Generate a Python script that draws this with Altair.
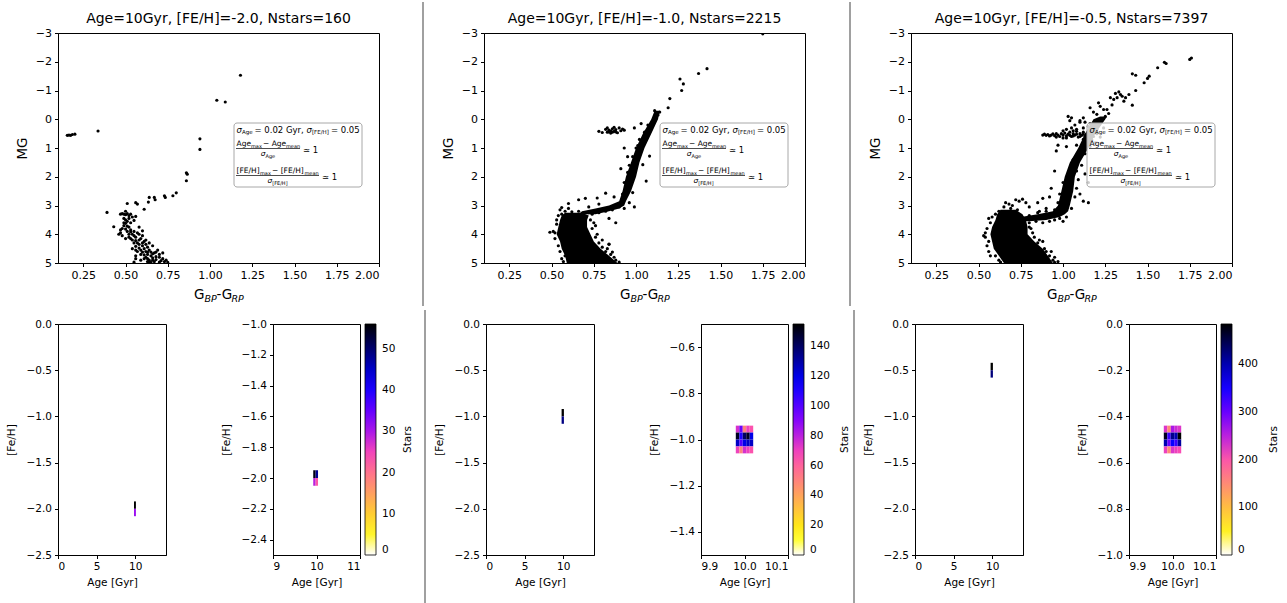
import altair as alt
import pandas as pd

FONT = "DejaVu Sans"

TITLES = [
    "Age=10Gyr, [FE/H]=-2.0, Nstars=160",
    "Age=10Gyr, [FE/H]=-1.0, Nstars=2215",
    "Age=10Gyr, [FE/H]=-0.5, Nstars=7397",
]

# ---------------- CMD stars (BP-RP, MG) ----------------
P1_STARS = [
    (0.155, 0.56), (0.165, 0.55), (0.175, 0.56), (0.185, 0.53), (0.20, 0.52), (0.337, 0.41),
    (1.18, -1.53), (1.04, -0.66), (1.09, -0.6), (0.94, 0.68), (0.94, 1.05), (0.86, 1.86),
    (0.865, 1.91), (0.86, 2.14), (0.80, 2.56), (0.78, 2.66), (0.73, 2.66), (0.735, 2.72),
    (0.67, 2.72), (0.675, 2.8), (0.64, 2.72), (0.635, 2.88), (0.61, 3.13), (0.56, 2.9),
    (0.57, 2.95), (0.51, 2.93), (0.39, 3.24), (0.43, 3.74),
    (0.47, 3.3), (0.48, 3.28), (0.49, 3.3), (0.50, 3.32), (0.50, 3.2), (0.51, 3.28), (0.52, 3.35),
    (0.53, 3.3), (0.49, 3.45), (0.50, 3.5), (0.51, 3.55), (0.52, 3.45), (0.53, 3.6), (0.50, 3.62),
    (0.49, 3.7), (0.51, 3.72), (0.52, 3.75), (0.48, 3.8), (0.47, 3.85), (0.47, 3.95), (0.50, 3.82),
    (0.53, 3.85), (0.55, 3.52), (0.56, 3.38), (0.54, 3.4), (0.49, 3.6), (0.53, 3.92), (0.55, 3.9),
    (0.51, 3.9), (0.52, 4.0), (0.54, 4.0), (0.55, 4.05), (0.56, 4.1), (0.57, 3.95), (0.58, 4.0),
    (0.52, 4.1), (0.53, 4.15), (0.54, 4.2), (0.56, 4.22), (0.58, 4.2), (0.59, 4.15), (0.60, 4.05),
    (0.61, 4.25), (0.55, 4.3), (0.57, 4.3), (0.58, 4.35), (0.60, 4.4), (0.62, 4.35), (0.56, 4.42),
    (0.58, 4.48), (0.59, 4.55), (0.61, 4.5), (0.63, 4.45), (0.60, 4.62), (0.62, 4.6), (0.64, 4.55),
    (0.65, 4.62), (0.59, 4.7), (0.61, 4.72), (0.63, 4.7), (0.65, 4.75), (0.67, 4.65), (0.68, 4.62),
    (0.70, 4.7), (0.72, 4.65), (0.62, 4.8), (0.63, 4.85), (0.64, 4.9), (0.66, 4.82), (0.68, 4.88),
    (0.70, 4.8), (0.72, 4.85), (0.74, 4.9), (0.63, 4.95), (0.65, 4.98), (0.67, 4.95), (0.70, 4.97),
    (0.73, 4.95), (0.55, 4.97), (0.56, 4.55), (0.56, 4.75), (0.57, 4.6), (0.54, 4.5), (0.58, 3.75),
    (0.60, 3.88), (0.46, 4.0), (0.48, 4.05), (0.50, 4.15), (0.62, 4.2), (0.64, 4.3), (0.66, 4.4),
    (0.60, 4.3), (0.63, 4.62), (0.68, 4.78), (0.61, 4.85), (0.66, 4.68), (0.69, 4.55), (0.59, 4.9),
    (0.71, 4.92), (0.75, 4.98), (0.64, 4.98), (0.56, 4.85), (0.66, 4.9),
]

P2_STARS = [
    (1.75, -2.97), (1.42, -1.76), (1.37, -1.59), (1.26, -1.4), (1.28, -1.23), (1.27, -1.0),
    (1.20, -0.72), (1.19, -0.4),
    (0.78, 0.42), (0.82, 0.35), (0.83, 0.45), (0.84, 0.38), (0.85, 0.48), (0.86, 0.33),
    (0.87, 0.42), (0.88, 0.36), (0.89, 0.47), (0.90, 0.30), (0.91, 0.40), (0.92, 0.34),
    (0.85, 0.41), (0.88, 0.44), (0.80, 0.46), (0.83, 0.30), (0.86, 0.45), (0.93, 0.38),
    (0.87, 0.28), (0.84, 0.44),
    (0.53, 3.5), (0.52, 3.95), (0.49, 3.93), (0.54, 3.35), (0.56, 3.3), (0.53, 3.65),
    (0.52, 4.15), (0.54, 4.4), (0.55, 4.6), (0.56, 4.85), (0.57, 4.95), (0.58, 4.75),
    (0.73, 3.5), (0.74, 3.8), (0.76, 4.1), (0.78, 4.3), (0.80, 4.45), (0.82, 4.6), (0.85, 4.7),
    (0.87, 4.8), (0.88, 4.9), (0.90, 4.97), (0.75, 3.6), (0.77, 4.0), (0.84, 4.35), (0.83, 4.5),
    (0.86, 4.62), (0.58, 3.2), (0.62, 3.22), (0.66, 3.2), (0.55, 3.15), (0.60, 3.1),
    (0.72, 3.25), (0.76, 3.2), (0.80, 3.15), (0.84, 3.1), (0.86, 3.05), (0.88, 3.0), (0.90, 2.95),
    (0.82, 3.2), (0.78, 3.25), (0.74, 3.3), (0.86, 3.15), (0.90, 3.05),
    (0.92, 2.6), (0.95, 2.4), (0.93, 2.2), (0.97, 2.0), (0.95, 1.85), (0.99, 1.75), (0.96, 1.6),
    (1.00, 1.45), (0.98, 1.3), (1.02, 1.2), (1.00, 1.0), (1.04, 0.85), (1.02, 0.7), (1.06, 0.6),
    (1.05, 0.45), (1.08, 0.35), (1.07, 0.2), (1.10, 0.1), (1.12, -0.05), (1.13, -0.15),
    (1.14, -0.25), (1.11, -0.3),
    (0.93, 1.0), (0.95, 1.3), (0.91, 1.72), (1.04, 1.58), (1.06, 2.15), (0.98, 2.55), (0.82, 2.57),
    (0.77, 2.74), (0.70, 2.75), (0.66, 2.8), (0.60, 2.93), (0.56, 3.07), (0.87, 2.7), (0.84, 3.45),
    (0.88, 3.6), (0.72, 3.05), (0.78, 2.95), (0.51, 3.9), (0.80, 4.2), (0.84, 4.34), (0.76, 3.7),
    (1.03, 0.15), (0.99, 0.3), (1.01, 0.92), (1.08, 1.28), (0.96, 2.9), (0.93, 3.1), (0.99, 3.05),
]

P3_STARS = [
    (1.75, -2.08), (1.76, -2.13), (1.60, -1.98), (1.61, -1.94), (1.56, -1.79), (1.51, -1.5),
    (1.50, -1.42), (1.48, -1.27), (1.41, -1.58), (1.43, -1.53), (1.43, -1.0), (1.41, -0.49),
    (1.39, -0.86), (1.37, -0.75), (1.35, -0.8), (1.34, -0.86), (1.32, -0.75), (1.30, -0.69),
    (1.28, -0.75), (1.36, -0.63), (1.21, -0.57), (1.16, -0.4), (1.24, -0.34), (1.26, -0.34),
    (1.20, -0.17), (1.33, -0.95), (1.31, -0.9), (1.29, -0.5), (1.22, -0.45), (1.27, -0.2),
    (1.25, -0.1), (1.18, -0.25), (1.12, -0.05), (1.10, 0.05),
    (0.88, 0.55), (0.89, 0.52), (0.90, 0.56), (0.91, 0.53), (0.93, 0.55), (0.94, 0.51),
    (0.95, 0.57), (0.96, 0.5), (0.97, 0.55), (0.98, 0.6), (0.99, 0.5), (1.00, 0.55), (1.01, 0.48),
    (1.02, 0.58), (1.03, 0.52), (1.04, 0.45), (1.05, 0.6), (1.06, 0.5), (1.07, 0.55), (1.08, 0.42),
    (1.09, 0.62), (1.10, 0.5), (1.11, 0.56), (1.12, 0.45), (1.13, 0.6), (1.14, 0.52), (1.15, 0.55),
    (1.00, 0.4), (1.02, 0.35), (1.05, 0.3), (1.07, 0.2), (1.10, 0.1), (1.04, 0.05), (1.08, 0.35),
    (1.06, 0.4), (1.12, 0.3), (0.96, 0.62), (1.00, 0.65), (1.02, 0.65), (1.03, -0.1), (1.05, -0.05),
    (1.06, 0.58), (1.08, 0.52), (1.10, 0.6), (1.12, 0.52), (1.14, 0.6), (1.04, 0.56), (0.92, 0.58),
    (1.17, 0.45), (1.18, 0.6), (1.17, 0.72), (1.19, 0.82), (1.16, 0.95), (1.20, 0.5), (1.22, 0.62),
    (1.24, 0.3), (1.20, 0.35), (1.18, 0.3),
    (1.10, 1.3), (1.13, 1.2), (1.06, 1.4), (1.11, 1.6), (1.08, 1.8), (1.04, 1.9), (1.09, 2.1),
    (1.00, 2.2), (1.08, 2.4), (0.98, 2.6), (1.07, 2.7), (0.97, 2.9), (1.05, 3.1), (1.14, 0.8),
    (1.08, 0.9), (1.12, 0.7), (1.15, 0.25), (1.13, 0.1), (1.16, 0.15),
    (0.95, 1.8), (0.96, 1.1), (0.97, 0.9), (1.13, 1.9), (1.15, 2.2), (1.15, 2.9), (1.12, 2.85),
    (1.10, 2.6), (0.93, 2.4), (0.92, 2.7), (0.88, 2.75), (0.85, 2.9), (0.90, 3.1), (0.86, 3.2),
    (0.95, 3.5), (1.00, 3.55), (0.82, 3.95), (0.80, 3.75), (0.88, 4.25), (0.93, 4.6), (0.95, 4.8),
    (0.97, 4.95), (1.02, 0.95),
    (0.66, 2.9), (0.68, 2.95), (0.70, 3.0), (0.72, 2.8), (0.74, 2.85), (0.76, 2.78), (0.78, 2.9),
    (0.80, 3.05), (0.69, 3.1), (0.73, 3.15), (0.65, 3.05), (0.62, 3.2), (0.60, 3.3), (0.58, 3.4),
    (0.56, 3.45), (0.57, 3.6), (0.55, 3.8), (0.53, 4.05), (0.54, 4.1), (0.55, 4.4), (0.56, 4.25),
    (0.54, 3.95), (0.56, 4.6), (0.57, 4.75), (0.60, 4.75), (0.62, 4.9), (0.63, 4.97),
    (0.80, 3.6), (0.81, 3.8), (0.83, 4.1), (0.85, 4.3), (0.89, 4.5), (0.90, 4.6), (0.92, 4.75),
    (0.94, 4.9), (0.95, 4.98), (0.86, 4.2),
    (0.80, 3.35), (0.85, 3.25), (0.90, 3.2), (0.95, 3.15), (1.00, 3.1), (0.92, 3.55), (0.88, 3.6),
    (0.84, 3.55), (1.02, 3.4), (0.98, 3.45),
]

# dense regions: MG level, left and right colour edge of the solid black band
P2_RGB_MG = [-0.3, 0.0, 0.5, 1.0, 1.5, 2.0, 2.5, 2.85, 3.0, 3.1, 3.2, 3.3]
P2_RGB_LO = [1.11, 1.09, 1.04, 1.00, 0.97, 0.94, 0.92, 0.90, 0.84, 0.76, 0.68, 0.66]
P2_RGB_HI = [1.14, 1.13, 1.09, 1.05, 1.02, 1.00, 0.97, 0.94, 0.93, 0.90, 0.84, 0.76]
P2_MS_MG = [3.25, 3.35, 3.5, 3.75, 4.0, 4.25, 4.5, 4.75, 5.0]
P2_MS_LO = [0.58, 0.56, 0.55, 0.54, 0.53, 0.55, 0.56, 0.58, 0.59]
P2_MS_HI = [0.68, 0.72, 0.71, 0.71, 0.73, 0.75, 0.79, 0.84, 0.89]

P3_RGB_MG = [-0.1, 0.0, 0.5, 1.0, 1.5, 2.0, 2.5, 3.0, 3.2, 3.3, 3.4, 3.5, 3.55]
P3_RGB_LO = [1.22, 1.18, 1.13, 1.09, 1.04, 1.01, 0.99, 0.97, 0.94, 0.85, 0.75, 0.72, 0.72]
P3_RGB_HI = [1.26, 1.25, 1.19, 1.15, 1.10, 1.07, 1.06, 1.04, 1.03, 1.01, 0.98, 0.90, 0.80]
P3_MS_MG = [3.15, 3.3, 3.5, 3.75, 4.0, 4.25, 4.5, 4.75, 5.0]
P3_MS_LO = [0.63, 0.61, 0.60, 0.58, 0.57, 0.58, 0.59, 0.62, 0.65]
P3_MS_HI = [0.72, 0.76, 0.78, 0.79, 0.79, 0.83, 0.88, 0.91, 0.94]

# ---------------- Age / [Fe/H] histograms ----------------
OV1_AGE = [9.85, 10.1]
OV1_FEH = [-1.92, -2.0, -2.08]
OV1_N = [103, 57]
OV2_AGE = [9.8, 10.1]
OV2_FEH = [-0.92, -1.0, -1.08]
OV2_N = [1100, 960]
OV3_AGE = [9.8, 10.1]
OV3_FEH = [-0.42, -0.5, -0.58]
OV3_N = [3500, 3080]

H1_AGE = [9.925, 9.98, 10.035]
H1_FEH = [-1.95, -2.0, -2.05]
H1_N = [[55, 48], [29, 23]]
H1_MAX = 56

H2_AGE = [9.98, 9.988, 9.996, 10.004, 10.012, 10.02]
H2_FEH = [-0.94, -0.97, -1.0, -1.03, -1.06]
H2_N = [[75, 95, 50, 70, 65], [150, 110, 140, 150, 120], [125, 100, 120, 125, 125], [70, 50, 75, 70, 65]]
H2_MAX = 155

H3_AGE = [9.98, 9.988, 9.996, 10.004, 10.012, 10.02]
H3_FEH = [-0.44, -0.47, -0.5, -0.53, -0.56]
H3_N = [[230, 150, 260, 240, 230], [470, 330, 420, 400, 485], [400, 300, 360, 330, 410], [220, 150, 230, 220, 210]]
H3_MAX = 485

CMAP = ["#ffffff", "#ffff38", "#ffe817", "#ffc837", "#ffa857", "#ff8877", "#ff6996", "#f949b6",
        "#c729d6", "#9509f6", "#6400ff", "#3200ff", "#0000ff", "#0000bf", "#000080", "#000040", "#000000"]

ONE = pd.DataFrame({"k": [0]})

# layout: every panel gets invisible anchor rules that fix its full box exactly
TOP_T, TOP_B = -32, 274      # top panels, relative to plot origin
BOT_T, BOT_B = -15, 282      # bottom panels


def txt(s, x, y, size, italic=False, baseline="middle", align="left", angle=0):
    return alt.Chart(ONE).mark_text(
        text=s, font=FONT, fontSize=size, fontStyle="italic" if italic else "normal",
        align=align, baseline=baseline, color="black", angle=angle,
    ).encode(x=alt.value(x), y=alt.value(y))


def hline(x0, x1, y):
    return alt.Chart(ONE).mark_rule(color="black", strokeWidth=0.7).encode(
        x=alt.value(x0), x2=alt.value(x1), y=alt.value(y))


def anchor(x, t, b):
    return alt.Chart(ONE).mark_rule(color="white", opacity=0, strokeWidth=0).encode(
        x=alt.value(x), y=alt.value(t), y2=alt.value(b))


def sep(x, t, b):
    return alt.Chart(ONE).mark_rule(color="#808080", strokeWidth=1.5).encode(
        x=alt.value(x), y=alt.value(t), y2=alt.value(b))


def top_panel(idx, stars, areas, frame):
    xs = alt.Scale(domain=[0.1, 2.0], nice=False, zero=False)
    ys = alt.Scale(domain=[-3, 5], reverse=True, nice=False, zero=False)
    xa = alt.Axis(values=[0.25, 0.5, 0.75, 1.0, 1.25, 1.5, 1.75, 2.0], format=".2f", title=None,
                  labelFontSize=11, labelOverlap=False)
    ya = alt.Axis(values=list(range(-3, 6)), format="d", title="MG", titleFontSize=13.5,
                  labelFontSize=11, titlePadding=6, labelOverlap=False)
    df = pd.DataFrame({"bprp": [p[0] for p in stars], "mg": [p[1] for p in stars]})
    layers = [alt.Chart(df).mark_circle(size=10, color="black", opacity=1, clip=True).encode(
        x=alt.X("bprp:Q", scale=xs, axis=xa), y=alt.Y("mg:Q", scale=ys, axis=ya))]
    for mg, lo, hi in areas:
        adf = pd.DataFrame({"mg": mg, "bprp": lo, "bprp2": hi})
        layers.append(alt.Chart(adf).mark_area(orient="horizontal", color="black", clip=True).encode(
            y=alt.Y("mg:Q", scale=ys, axis=ya), x=alt.X("bprp:Q", scale=xs, axis=xa), x2="bprp2:Q"))
    # annotation box
    layers.append(alt.Chart(ONE).mark_rect(fill="white", fillOpacity=0.8, stroke="#a8a8a8",
                                           strokeWidth=1, cornerRadius=3).encode(
        x=alt.value(176), x2=alt.value(304), y=alt.value(90), y2=alt.value(154)))
    layers += [
        txt("σ", 178.5, 96.5, 8.5, True), txt("Age", 183.9, 98.5, 5.5),
        txt("= 0.02 Gyr,", 196.5, 96.5, 8.5), txt("σ", 248.5, 96.5, 8.5, True),
        txt("[FE/H]", 253.9, 98.5, 5.5), txt("= 0.05", 272.9, 96.5, 8.5),
        # fraction 1
        txt("Age", 178.5, 110.5, 7.5), txt("max", 193, 112.5, 5),
        txt("− Age", 205, 110.5, 7.5), txt("mean", 228, 112.5, 5),
        hline(178, 242, 115.5),
        txt("σ", 202.8, 121, 7.5, True), txt("Age", 207.5, 123, 5),
        txt("≃ 1", 245, 117, 8.5),
        # fraction 2
        txt("[FE/H]", 178.5, 137.5, 7.5), txt("max", 202, 139.5, 5),
        txt("− [FE/H]", 214, 137.5, 7.5), txt("mean", 246.5, 139.5, 5),
        hline(178, 261, 142.5),
        txt("σ", 209.4, 148, 7.5, True), txt("[FE/H]", 214.2, 150, 5),
        txt("≃ 1", 264, 144, 8.5),
        # x axis title G_BP-G_RP
        txt("G", 136, 266, 13.5, baseline="alphabetic"), txt("BP", 146.5, 269, 9.5, True, "alphabetic"),
        txt("-G", 158.5, 266, 13.5, baseline="alphabetic"), txt("RP", 173.5, 269, 9.5, True, "alphabetic"),
        # panel title
        txt(TITLES[idx], 160.5, -14, 14, align="center"),
    ]
    layers += frame
    return alt.layer(*layers).properties(width=321, height=230)


def ov_panel(ages, fehs, counts, frame):
    df = pd.DataFrame({"a0": [ages[0]] * len(counts), "a1": [ages[1]] * len(counts),
                       "f0": fehs[:-1], "f1": fehs[1:], "n": counts})
    cells = alt.Chart(df).mark_rect(clip=True).encode(
        x=alt.X("a0:Q", scale=alt.Scale(domain=[0, 14], nice=False, zero=False),
                axis=alt.Axis(values=[0, 5, 10], format="d", title="Age [Gyr]", labelFontSize=10.5,
                              titleFontSize=10.5, titlePadding=5, labelOverlap=False)),
        x2="a1:Q",
        y=alt.Y("f0:Q", scale=alt.Scale(domain=[-2.5, 0], nice=False, zero=False),
                axis=alt.Axis(values=[-2.5, -2.0, -1.5, -1.0, -0.5, 0.0], format=".1f", title="[Fe/H]",
                              labelFontSize=10.5, titleFontSize=10.5, titlePadding=10,
                              labelOverlap=False)),
        y2="f1:Q",
        color=alt.Color("n:Q", scale=alt.Scale(domain=[0, max(counts)], range=CMAP, interpolate="rgb"),
                        legend=None),
    )
    return alt.layer(cells, *frame).properties(width=108, height=231)


def heat_panel(ages, fehs, counts, xdom, xvals, xfmt, ydom, yvals, cmax, cvals, stars_x, frame):
    rows = []
    for i in range(len(fehs) - 1):
        for j in range(len(ages) - 1):
            rows.append({"a0": ages[j], "a1": ages[j + 1], "f0": fehs[i], "f1": fehs[i + 1],
                         "n": counts[i][j]})
    df = pd.DataFrame(rows)
    cells = alt.Chart(df).mark_rect(clip=True).encode(
        x=alt.X("a0:Q", scale=alt.Scale(domain=xdom, nice=False, zero=False),
                axis=alt.Axis(values=xvals, format=xfmt, title="Age [Gyr]", labelFontSize=10.5,
                              titleFontSize=10.5, titlePadding=5, labelOverlap=False)),
        x2="a1:Q",
        y=alt.Y("f0:Q", scale=alt.Scale(domain=ydom, nice=False, zero=False),
                axis=alt.Axis(values=yvals, format=".1f", title="[Fe/H]", labelFontSize=10.5,
                              titleFontSize=10.5, titlePadding=10, labelOverlap=False)),
        y2="f1:Q",
        color=alt.Color("n:Q", scale=alt.Scale(domain=[0, cmax], range=CMAP, interpolate="rgb"),
                        legend=alt.Legend(title=None, orient="none", legendX=92, legendY=0,
                                          direction="vertical", gradientLength=231,
                                          gradientThickness=11, values=cvals, labelOverlap=False,
                                          labelFontSize=10.5,
                                          gradientStrokeColor="black", gradientStrokeWidth=0.8,
                                          labelOffset=6, padding=0)),
    )
    label = txt("Stars", stars_x, 115.5, 10.5, align="center", angle=270)
    return alt.layer(cells, label, *frame).properties(width=87, height=231)


top1 = top_panel(0, P1_STARS, [], [anchor(-57, TOP_T, TOP_B), anchor(362, TOP_T, TOP_B)])
top2 = top_panel(1, P2_STARS, [(P2_RGB_MG, P2_RGB_LO, P2_RGB_HI), (P2_MS_MG, P2_MS_LO, P2_MS_HI)],
                 [anchor(-62, TOP_T, TOP_B), sep(-61, TOP_T + 1, TOP_B - 1), anchor(363, TOP_T, TOP_B)])
top3 = top_panel(2, P3_STARS, [(P3_RGB_MG, P3_RGB_LO, P3_RGB_HI), (P3_MS_MG, P3_MS_LO, P3_MS_HI)],
                 [anchor(-62, TOP_T, TOP_B), sep(-61, TOP_T + 1, TOP_B - 1)])

ov1 = ov_panel(OV1_AGE, OV1_FEH, OV1_N, [anchor(-57, BOT_T, BOT_B), anchor(151, BOT_T, BOT_B)])
heat1 = heat_panel(H1_AGE, H1_FEH, H1_N, [9.0, 11.0], [9.0, 10.0, 11.0], ".0f", [-2.5, -1.0],
                   [-2.4, -2.2, -2.0, -1.8, -1.6, -1.4, -1.2, -1.0], H1_MAX, [0, 10, 20, 30, 40, 50], 135,
                   [anchor(-62, BOT_T, BOT_B), anchor(149, BOT_T, BOT_B)])
ov2 = ov_panel(OV2_AGE, OV2_FEH, OV2_N,
               [anchor(-62, BOT_T, BOT_B), sep(-61, BOT_T + 1, BOT_B - 1), anchor(151, BOT_T, BOT_B)])
heat2 = heat_panel(H2_AGE, H2_FEH, H2_N, [9.9, 10.1], [9.9, 10.0, 10.1], ".1f", [-1.5, -0.5],
                   [-1.4, -1.2, -1.0, -0.8, -0.6], H2_MAX, [0, 20, 40, 60, 80, 100, 120, 140], 143.5,
                   [anchor(-62, BOT_T, BOT_B), anchor(150, BOT_T, BOT_B)])
ov3 = ov_panel(OV3_AGE, OV3_FEH, OV3_N,
               [anchor(-62, BOT_T, BOT_B), sep(-61, BOT_T + 1, BOT_B - 1), anchor(150, BOT_T, BOT_B)])
heat3 = heat_panel(H3_AGE, H3_FEH, H3_N, [9.9, 10.1], [9.9, 10.0, 10.1], ".1f", [-1.0, 0.0],
                   [-1.0, -0.8, -0.6, -0.4, -0.2, 0.0], H3_MAX, [0, 100, 200, 300, 400], 145,
                   [anchor(-62, BOT_T, BOT_B)])

RES = dict(color="independent", x="independent", y="independent")
top_row = alt.hconcat(top1, top2, top3, spacing=0).resolve_scale(**RES)
bot_row = alt.hconcat(ov1, heat1, ov2, heat2, ov3, heat3, spacing=0).resolve_scale(**RES) \
    .resolve_legend(color="independent")
chart = alt.vconcat(top_row, bot_row, spacing=0).resolve_scale(**RES).resolve_legend(color="independent")

chart = chart.properties(padding={"left": 0, "top": 0, "right": 5, "bottom": 0}).configure_axis(
    domainColor="black", tickColor="black", labelColor="black", titleColor="black", tickSize=3.5,
    labelFont=FONT, titleFont=FONT, titleFontWeight="normal", grid=False, domainWidth=1, tickWidth=1,
    labelPadding=3,
).configure_view(stroke="black", strokeWidth=1).configure_legend(
    labelFont=FONT, titleFont=FONT, labelColor="black", titleColor="black",
).configure_title(font=FONT, color="black")

chart.save("out.html", embed_options={"renderer": "svg", "actions": False})
